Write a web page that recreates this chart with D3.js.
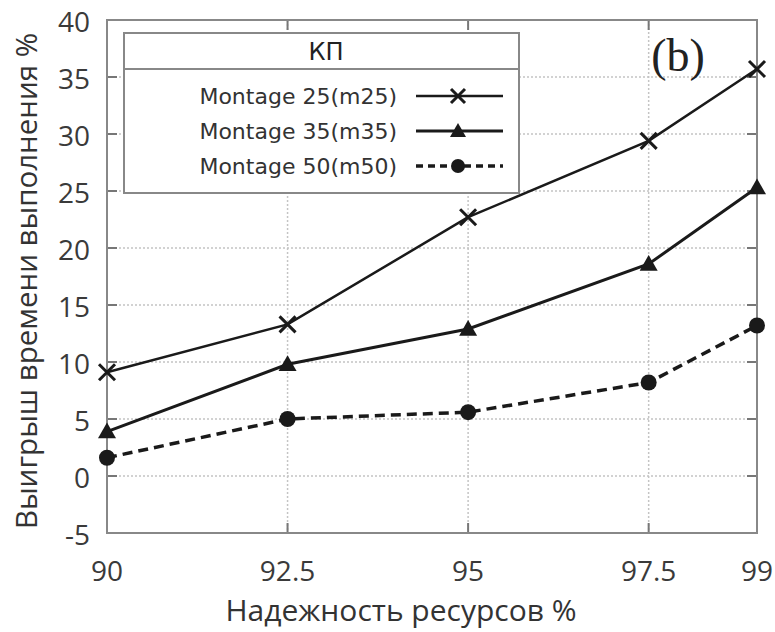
<!DOCTYPE html>
<html>
<head>
<meta charset="utf-8">
<script src="https://d3js.org/d3.v7.min.js"></script>
<style>
  body { margin: 0; background: #fff; }
  svg { display: block; }
</style>
</head>
<body>
<svg width="775" height="632"></svg>
<script>
// reliability levels (x) and gains (y, %)
const reliability = [90, 92.5, 95, 97.5, 99];
const m25 = [9.1, 13.3, 22.7, 29.4, 35.7];
const m35 = [3.9, 9.8, 12.9, 18.6, 25.3];
const m50 = [1.6, 5.0, 5.6, 8.2, 13.2];
const yTicks = [-5, 0, 5, 10, 15, 20, 25, 30, 35, 40];
const seriesNames = ['Montage 25(m25)', 'Montage 35(m35)', 'Montage 50(m50)'];

const svg = d3.select('svg');
const pl = 107, pr = 757, pt = 20, pb = 533;

const x = d3.scaleLinear().domain([90, 99]).range([pl, pr]);
const y = d3.scaleLinear().domain([-5, 40]).range([pb, pt]);

const ink = '#1a1a1a';
const grey = '#3a3a3a';

// grid
const grid = svg.append('g');
grid.selectAll('line.h')
  .data(yTicks.slice(1, -1))
  .enter().append('line')
  .attr('x1', pl).attr('x2', pr)
  .attr('y1', d => y(d)).attr('y2', d => y(d))
  .style('stroke', '#c4c4c4').style('stroke-width', 1.5).style('stroke-dasharray', '2,2');
grid.selectAll('line.v')
  .data(reliability.slice(1, -1))
  .enter().append('line')
  .attr('x1', d => x(d)).attr('x2', d => x(d))
  .attr('y1', pt).attr('y2', pb)
  .style('stroke', '#c4c4c4').style('stroke-width', 1.5).style('stroke-dasharray', '2,2');

// inner ticks
const ticks = svg.append('g').style('stroke', '#777').style('stroke-width', 2);
yTicks.forEach(t => {
  ticks.append('line').attr('x1', pl).attr('x2', pl + 10).attr('y1', y(t)).attr('y2', y(t));
  ticks.append('line').attr('x1', pr).attr('x2', pr - 10).attr('y1', y(t)).attr('y2', y(t));
});
reliability.forEach(t => {
  ticks.append('line').attr('x1', x(t)).attr('x2', x(t)).attr('y1', pb).attr('y2', pb - 10);
  ticks.append('line').attr('x1', x(t)).attr('x2', x(t)).attr('y1', pt).attr('y2', pt + 10);
});

// frame
svg.append('rect')
  .attr('x', pl).attr('y', pt)
  .attr('width', pr - pl).attr('height', pb - pt)
  .style('fill', 'none').style('stroke', '#888').style('stroke-width', 2);

// tick labels
svg.append('g').selectAll('text')
  .data(yTicks)
  .enter().append('text')
  .attr('x', pl - 17).attr('y', d => y(d) + 2)
  .attr('dy', '0.35em')
  .attr('text-anchor', 'end')
  .style('font-family', 'Open Sans, sans-serif')
  .style('font-size', '28px')
  .style('fill', grey)
  .text(d => d);

svg.append('g').selectAll('text')
  .data(reliability)
  .enter().append('text')
  .attr('x', d => x(d)).attr('y', 581)
  .attr('text-anchor', 'middle')
  .style('font-family', 'Open Sans, sans-serif')
  .style('font-size', '28px')
  .style('fill', grey)
  .text(d => d);

// axis titles
svg.append('text')
  .attr('x', 401).attr('y', 621)
  .attr('text-anchor', 'middle')
  .style('font-family', 'Open Sans, sans-serif')
  .style('font-size', '30px')
  .style('fill', '#333')
  .text('Надежность ресурсов %');

svg.append('text')
  .attr('transform', 'translate(37,281) rotate(-90)')
  .attr('text-anchor', 'middle')
  .style('font-family', 'Open Sans, sans-serif')
  .style('font-size', '29.5px')
  .style('fill', '#333')
  .text('Выигрыш времени выполнения %');

// series
const line = d3.line().x((d, i) => x(reliability[i])).y(d => y(d));

function drawX(g, cx, cy, s) {
  g.append('path')
    .attr('d', `M${cx - s},${cy - s}L${cx + s},${cy + s}M${cx - s},${cy + s}L${cx + s},${cy - s}`)
    .style('stroke', ink).style('stroke-width', 3).style('fill', 'none');
}
function drawTri(g, cx, cy, s) {
  g.append('path')
    .attr('d', `M${cx},${cy - s}L${cx + s},${cy + s * 0.75}L${cx - s},${cy + s * 0.75}Z`)
    .style('fill', ink);
}
function drawDot(g, cx, cy, s) {
  g.append('circle').attr('cx', cx).attr('cy', cy).attr('r', s).style('fill', ink);
}

const series = [
  { vals: m25, dash: null, width: 2.5, marker: drawX, size: 8 },
  { vals: m35, dash: null, width: 3, marker: drawTri, size: 9 },
  { vals: m50, dash: '10,6', width: 3.5, marker: drawDot, size: 8 }
];

const marks = svg.append('g');
series.forEach(s => {
  marks.append('path')
    .datum(s.vals)
    .attr('d', line)
    .style('fill', 'none')
    .style('stroke', ink)
    .style('stroke-width', s.width)
    .style('stroke-dasharray', s.dash);
  s.vals.forEach((v, i) => s.marker(marks, x(reliability[i]), y(v), s.size));
});

// legend
const lg = svg.append('g');
lg.append('rect')
  .attr('x', 124).attr('y', 33).attr('width', 395).attr('height', 160)
  .style('fill', '#fff').style('stroke', '#888').style('stroke-width', 2);
lg.append('line')
  .attr('x1', 124).attr('x2', 519).attr('y1', 69).attr('y2', 69)
  .style('stroke', '#888').style('stroke-width', 2);
lg.append('text')
  .attr('x', 326).attr('y', 52).attr('dy', '0.35em')
  .attr('text-anchor', 'middle')
  .style('font-family', 'DejaVu Sans, sans-serif')
  .style('font-size', '24px')
  .style('fill', '#222')
  .text('КП');

seriesNames.forEach((name, i) => {
  const ly = 96 + i * 35;
  lg.append('text')
    .attr('x', 397).attr('y', ly).attr('dy', '0.35em')
    .attr('text-anchor', 'end')
    .style('font-family', 'DejaVu Sans, sans-serif')
    .style('font-size', '22px')
    .style('fill', '#333')
    .text(name);
  const s = series[i];
  lg.append('line')
    .attr('x1', 416).attr('x2', 503).attr('y1', ly).attr('y2', ly)
    .style('stroke', ink).style('stroke-width', s.width)
    .style('stroke-dasharray', s.dash ? '7,5' : null);
  s.marker(lg, 458, ly, s.size - 1);
});

// panel label
svg.append('text')
  .attr('x', 678).attr('y', 71)
  .attr('text-anchor', 'middle')
  .style('font-family', 'Liberation Serif, serif')
  .style('font-size', '46px')
  .style('fill', '#222')
  .text('(b)');
</script>
</body>
</html>
